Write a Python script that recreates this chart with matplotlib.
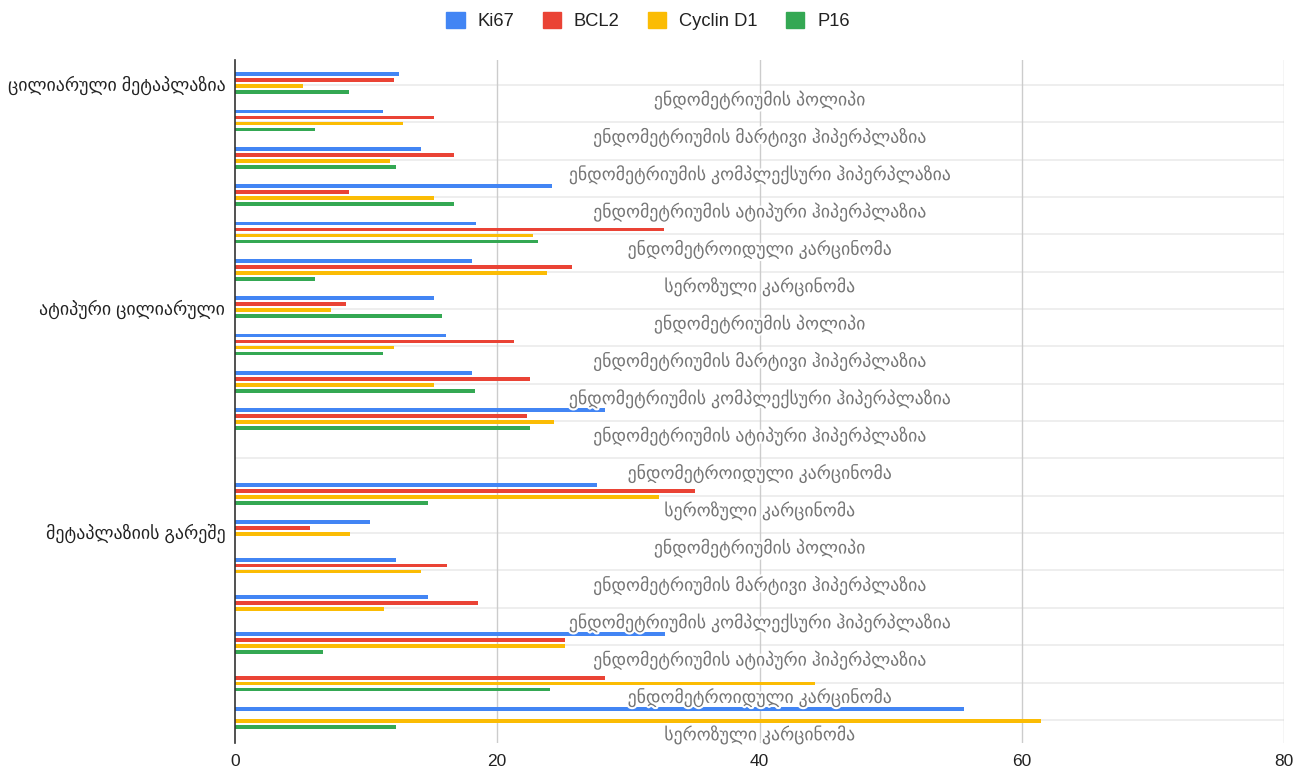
#!/usr/bin/python3
#
# markers.py
# Horizontal grouped bars of marker expression by lesion type.

import matplotlib
matplotlib.use('Agg')
import matplotlib.pyplot as plt
import matplotlib.patheffects as pe
from matplotlib.patches import Patch
import numpy as np

GROUPS = ['ცილიარული მეტაპლაზია', 'ატიპური ცილიარული', 'მეტაპლაზიის გარეშე']
SUBTYPES = ['ენდომეტრიუმის პოლიპი',
            'ენდომეტრიუმის მარტივი ჰიპერპლაზია',
            'ენდომეტრიუმის კომპლექსური ჰიპერპლაზია',
            'ენდომეტრიუმის ატიპური ჰიპერპლაზია',
            'ენდომეტროიდული კარცინომა',
            'სეროზული კარცინომა']

SERIES = ['Ki67', 'BCL2', 'Cyclin D1', 'P16']
KI67 = [12.5, 11.3, 14.2, 24.2, 18.4, 18.1,
        15.2, 16.1, 18.1, 28.2, 0, 27.6,
        10.3, 12.3, 14.7, 32.8, 0, 55.6]
BCL2 = [12.1, 15.2, 16.7, 8.7, 32.7, 25.7,
        8.5, 21.3, 22.5, 22.3, 0, 35.1,
        5.7, 16.2, 18.5, 25.2, 28.2, 0]
CYCLIN_D1 = [5.2, 12.8, 11.8, 15.2, 22.7, 23.8,
             7.3, 12.1, 15.2, 24.3, 0, 32.3,
             8.8, 14.2, 11.4, 25.2, 44.2, 61.5]
P16 = [8.7, 6.1, 12.3, 16.7, 23.1, 6.1,
       15.8, 11.3, 18.3, 22.5, 0, 14.7,
       0, 0, 0, 6.7, 24.0, 12.3]

COLORS = ['#4285F4', '#EA4335', '#FBBC04', '#34A853']
FONT = ['Liberation Sans', 'DejaVu Sans']


def main():
    plt.rcParams['font.family'] = FONT
    fig = plt.figure(figsize=(12.96, 7.69), dpi=100)
    ax = fig.add_axes([235 / 1296, 26 / 769, 1049 / 1296, 683 / 769])

    values = [KI67, BCL2, CYCLIN_D1, P16]
    n = len(KI67)
    y = np.arange(n)
    offsets = [-0.24, -0.08, 0.08, 0.24]

    # light separators at each row, vertical value grid
    for yy in y:
        ax.axhline(yy + 0.05, color='#ebebeb', lw=1.2, zorder=0)
    for xx in [20, 40, 60, 80]:
        ax.axvline(xx, color='#cccccc', lw=1, zorder=0.5)

    for vals, off, col in zip(values, offsets, COLORS):
        v = np.array(vals)
        keep = v > 0
        ax.barh(y[keep] + off, v[keep], height=0.1, color=col, zorder=2)

    # subtype names drawn inside the plot, under each row
    for i in range(n):
        ax.text(40, i + 0.45, SUBTYPES[i % len(SUBTYPES)], ha='center',
                va='center', fontsize=12.8, color='#757575', zorder=3,
                path_effects=[pe.withStroke(linewidth=3, foreground='white')])

    ax.set_xlim(0, 80)
    ax.set_ylim(17.67, -0.62)
    ax.set_yticks([0, 6, 12])
    ax.set_yticklabels(GROUPS, fontsize=12.9, color='#222222')
    ax.set_xticks([0, 20, 40, 60, 80])
    ax.tick_params(axis='x', length=0, labelsize=12.5, labelcolor='#222222', pad=8)
    ax.tick_params(axis='y', length=0, pad=7)
    for s in ['top', 'right', 'bottom']:
        ax.spines[s].set_visible(False)
    ax.spines['left'].set_color('#333333')
    ax.spines['left'].set_linewidth(1.2)

    handles = [Patch(facecolor=c, edgecolor=c) for c in COLORS]
    fig.legend(handles, SERIES, loc='center', bbox_to_anchor=(0.5, 1 - 21 / 769),
               ncol=4, frameon=False, fontsize=13.2, handlelength=1.0,
               handleheight=1.0, columnspacing=1.55, handletextpad=0.7,
               labelcolor='#222222')

    fig.savefig('out.png', dpi=100)


if __name__ == '__main__':
    main()
